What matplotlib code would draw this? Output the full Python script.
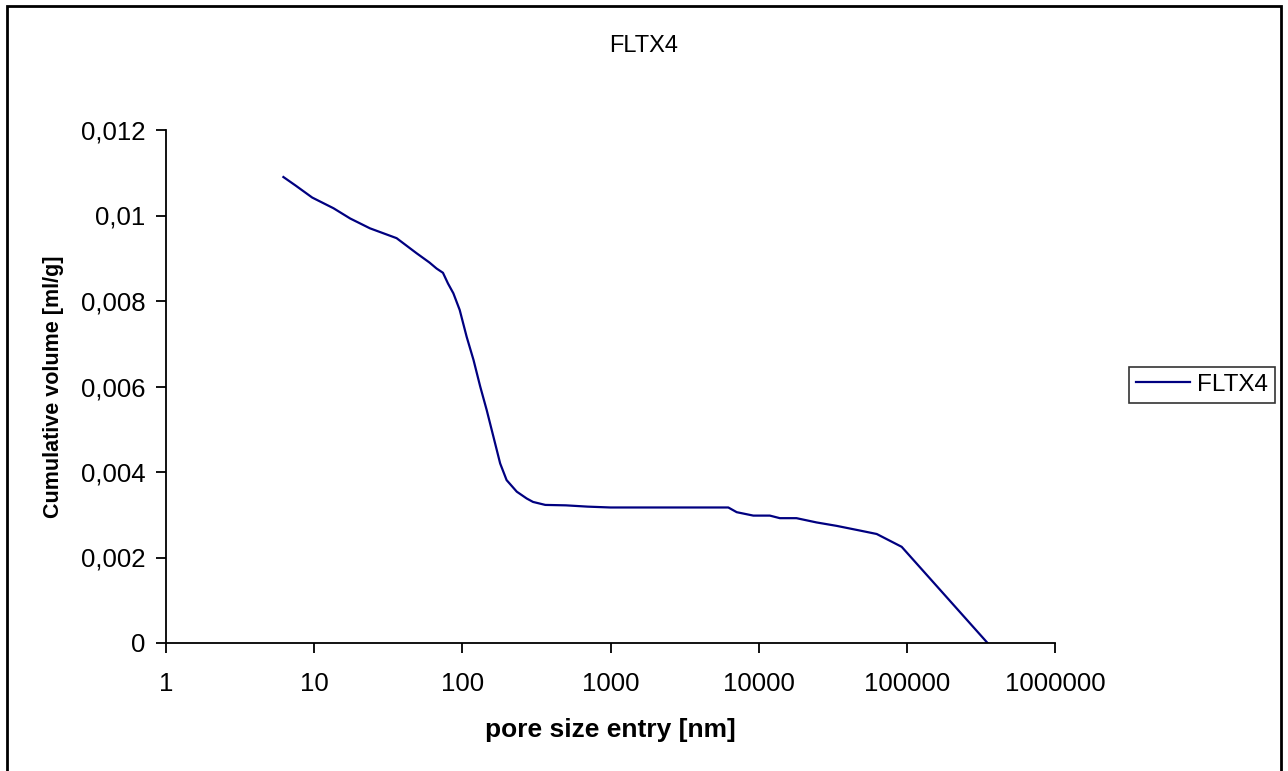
import matplotlib
matplotlib.use("Agg")
import matplotlib.pyplot as plt
from matplotlib.patches import Rectangle
from matplotlib.ticker import FixedLocator, FuncFormatter, NullLocator

plt.rcParams["font.family"] = ["Liberation Sans", "DejaVu Sans"]

# pore size entry [nm] and cumulative volume [ml/g]
pore_size = [6.2, 7.5, 9.7, 13.5, 17.5, 23.8, 36, 49, 60, 67, 74, 80, 87,
             96, 107, 119, 132, 146, 162, 180, 199, 233, 272, 300, 363,
             500, 700, 1000, 3000, 6240, 7110, 9200, 11900, 13900, 18000,
             24600, 33600, 48300, 62600, 92300, 350600]
cum_volume = [0.01090, 0.01070, 0.01042, 0.01017, 0.00993, 0.00970,
              0.00947, 0.00912, 0.00890, 0.00876, 0.00866, 0.00841,
              0.00818, 0.00779, 0.00716, 0.00662, 0.00600, 0.00545,
              0.00483, 0.00420, 0.00381, 0.00354, 0.00338, 0.00330,
              0.00323, 0.00322, 0.00319, 0.00317, 0.00317, 0.00317,
              0.00306, 0.00298, 0.00298, 0.00292, 0.00292, 0.00282,
              0.00274, 0.00263, 0.00255, 0.00225, 0.0]

x_ticks = [1, 10, 100, 1000, 10000, 100000, 1000000]
y_ticks = [0, 0.002, 0.004, 0.006, 0.008, 0.010, 0.012]
y_labels = ["0", "0,002", "0,004", "0,006", "0,008", "0,01", "0,012"]

fig = plt.figure(figsize=(12.88, 7.71), dpi=100)
ax = fig.add_axes([166 / 1288, 1 - 643 / 771, (1055 - 166) / 1288, (643 - 130) / 771])

ax.plot(pore_size, cum_volume, color="#000080", linewidth=1.6, label="FLTX4")

ax.set_xscale("log")
ax.set_xlim(1, 1000000)
ax.set_ylim(0, 0.012)
ax.xaxis.set_major_locator(FixedLocator(x_ticks))
ax.xaxis.set_minor_locator(NullLocator())
ax.xaxis.set_major_formatter(FuncFormatter(lambda v, p: f"{int(round(v))}"))
ax.set_yticks(y_ticks)
ax.set_yticklabels(y_labels)

for side in ["top", "right"]:
    ax.spines[side].set_visible(False)
for side in ["left", "bottom"]:
    ax.spines[side].set_linewidth(1.3)

ax.tick_params(axis="both", direction="out", length=7, width=1.3, labelsize=18.5)
ax.tick_params(axis="y", pad=8)
ax.tick_params(axis="x", pad=14)

ax.set_xlabel("pore size entry [nm]", fontsize=19, fontweight="bold", labelpad=16)
ax.set_ylabel("Cumulative volume [ml/g]", fontsize=15.5, fontweight="bold", labelpad=12)
fig.text(0.5, 1 - 46 / 771, "FLTX4", fontsize=17, ha="center", va="center")

leg = ax.legend(loc="center left", bbox_to_anchor=(1129 / 1288, 1 - 385 / 771),
                bbox_transform=fig.transFigure, frameon=True, fancybox=False,
                fontsize=17.5, handlelength=2.2, handletextpad=0.3,
                borderpad=0.3, borderaxespad=0)
leg.get_frame().set_edgecolor("black")
leg.get_frame().set_linewidth(1.2)

fig.patches.append(Rectangle((7 / 1288, -0.01), (1281 - 7) / 1288, 1.01 - 6 / 771,
                             transform=fig.transFigure, fill=False,
                             edgecolor="black", linewidth=2.0))

fig.savefig("out.png", dpi=100)
